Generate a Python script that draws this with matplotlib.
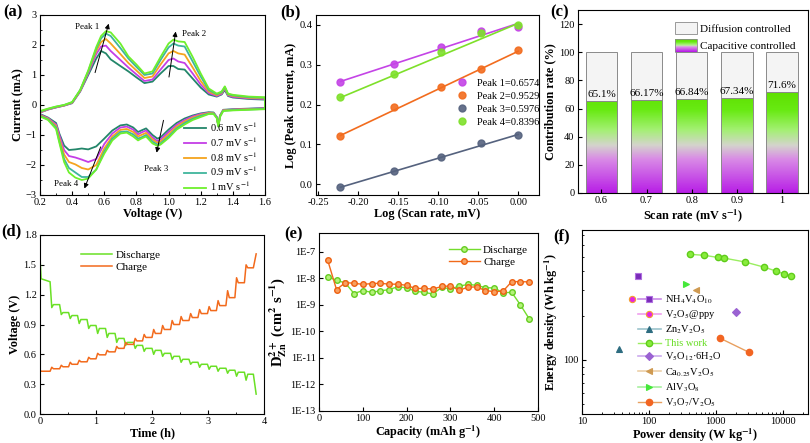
import numpy as np
import matplotlib
matplotlib.use("Agg")
import matplotlib.pyplot as plt
from matplotlib.colors import LinearSegmentedColormap, Normalize
from matplotlib.patches import Rectangle, Patch
from matplotlib.legend_handler import HandlerBase
from matplotlib.ticker import MultipleLocator, FixedLocator, FuncFormatter, NullLocator, NullFormatter

plt.rcParams['font.family'] = ['Liberation Serif', 'DejaVu Serif']
plt.rcParams['mathtext.fontset'] = 'stix'
plt.rcParams['font.size'] = 8
plt.rcParams['xtick.labelsize'] = 7.5
plt.rcParams['ytick.labelsize'] = 7.5
plt.rcParams['xtick.direction'] = 'in'
plt.rcParams['ytick.direction'] = 'in'
plt.rcParams['xtick.major.size'] = 3
plt.rcParams['ytick.major.size'] = 3
plt.rcParams['xtick.minor.size'] = 1.5
plt.rcParams['ytick.minor.size'] = 1.5
plt.rcParams['xtick.major.pad'] = 2.5
plt.rcParams['ytick.major.pad'] = 2.5

# ---------------- (a) CV curves ----------------
scan_rates = ['0.6', '0.7', '0.8', '0.9', '1']
cv_colors = ['#23866a', '#c43ee6', '#f5a41e', '#3fb59c', '#6ef02c']
cv_up_v = [0.2, 0.25, 0.3, 0.35, 0.4, 0.45, 0.5, 0.55, 0.58, 0.61, 0.64, 0.7, 0.75, 0.8, 0.85, 0.9,
           0.95, 1.0, 1.03, 1.06, 1.1, 1.15, 1.2, 1.25, 1.3, 1.33, 1.35, 1.37, 1.4, 1.5, 1.6]
cv_up_06 = [-0.25, -0.15, -0.08, -0.02, 0.06, 0.45, 1.0, 1.55, 1.8, 1.72, 1.52, 1.3, 1.12, 0.92, 0.73, 0.78,
            1.05, 1.3, 1.3, 1.2, 1.18, 0.88, 0.58, 0.35, 0.28, 0.35, 0.5, 0.3, 0.25, 0.2, 0.18]
cv_up_07 = [-0.25, -0.15, -0.08, -0.02, 0.07, 0.46, 1.05, 1.7, 1.95, 1.98, 1.8, 1.5, 1.25, 1.02, 0.8, 0.85,
            1.18, 1.5, 1.55, 1.45, 1.4, 1.05, 0.68, 0.4, 0.3, 0.37, 0.55, 0.32, 0.27, 0.22, 0.2]
cv_up_08 = [-0.24, -0.14, -0.07, -0.01, 0.08, 0.48, 1.1, 1.8, 2.1, 2.2, 2.05, 1.7, 1.4, 1.15, 0.9, 0.95,
            1.35, 1.72, 1.8, 1.72, 1.68, 1.25, 0.8, 0.45, 0.33, 0.4, 0.58, 0.34, 0.3, 0.24, 0.22]
cv_up_09 = [-0.22, -0.13, -0.06, 0.0, 0.09, 0.5, 1.12, 1.88, 2.22, 2.38, 2.3, 1.9, 1.55, 1.27, 1.0, 1.05,
            1.5, 1.92, 2.05, 1.98, 1.95, 1.45, 0.95, 0.5, 0.36, 0.42, 0.6, 0.36, 0.32, 0.26, 0.24]
cv_up_10 = [-0.2, -0.12, -0.05, 0.0, 0.1, 0.5, 1.15, 1.93, 2.3, 2.46, 2.42, 2.05, 1.62, 1.35, 1.05, 1.12,
            1.6, 2.05, 2.18, 2.12, 2.1, 1.6, 1.05, 0.55, 0.38, 0.45, 0.62, 0.38, 0.34, 0.28, 0.26]
cv_low_v = [1.6, 1.5, 1.4, 1.34, 1.32, 1.31, 1.3, 1.28, 1.25, 1.2, 1.15, 1.1, 1.05, 1.0, 0.95, 0.93, 0.9,
            0.86, 0.83, 0.81, 0.78, 0.74, 0.7, 0.65, 0.6, 0.55, 0.5, 0.46, 0.42, 0.38, 0.35, 0.32, 0.3, 0.25, 0.2]
cv_low_06 = [-0.1, -0.12, -0.14, -0.16, -0.35, -0.68, -0.4, -0.25, -0.24, -0.28, -0.35, -0.45, -0.6, -0.82,
             -1.08, -1.12, -1.0, -0.78, -0.85, -0.9, -0.75, -0.65, -0.68, -0.85, -1.12, -1.38, -1.48, -1.45,
             -1.48, -1.5, -1.35, -0.95, -0.6, -0.42, -0.3]
cv_low_07 = [-0.11, -0.13, -0.15, -0.17, -0.36, -0.7, -0.4, -0.26, -0.26, -0.3, -0.38, -0.5, -0.66, -0.9,
             -1.15, -1.2, -1.08, -0.85, -0.92, -0.98, -0.82, -0.72, -0.75, -0.95, -1.3, -1.8, -1.9, -1.82,
             -1.75, -1.7, -1.5, -1.0, -0.65, -0.44, -0.32]
cv_low_08 = [-0.12, -0.14, -0.16, -0.18, -0.37, -0.7, -0.42, -0.27, -0.27, -0.33, -0.42, -0.55, -0.72, -0.98,
             -1.22, -1.26, -1.15, -0.93, -1.0, -1.05, -0.9, -0.8, -0.83, -1.05, -1.45, -2.0, -2.15, -2.1,
             -1.98, -1.9, -1.65, -1.1, -0.7, -0.46, -0.34]
cv_low_09 = [-0.13, -0.15, -0.17, -0.19, -0.38, -0.72, -0.42, -0.28, -0.29, -0.36, -0.46, -0.6, -0.78, -1.05,
             -1.28, -1.32, -1.22, -1.0, -1.08, -1.12, -0.98, -0.88, -0.9, -1.12, -1.55, -2.15, -2.4, -2.4,
             -2.25, -2.1, -1.8, -1.2, -0.75, -0.48, -0.36]
cv_low_10 = [-0.14, -0.16, -0.18, -0.2, -0.4, -0.72, -0.44, -0.3, -0.3, -0.4, -0.5, -0.65, -0.82, -1.1,
             -1.32, -1.36, -1.28, -1.05, -1.12, -1.18, -1.05, -0.92, -0.95, -1.18, -1.62, -2.15, -2.45, -2.5,
             -2.42, -2.25, -1.9, -1.25, -0.8, -0.5, -0.38]
cv_up = [cv_up_06, cv_up_07, cv_up_08, cv_up_09, cv_up_10]
cv_low = [cv_low_06, cv_low_07, cv_low_08, cv_low_09, cv_low_10]

# ---------------- (b) log i vs log v ----------------
log_v = [-0.222, -0.155, -0.097, -0.046, 0.0]
peak_names = ['Peak 1=0.6574', 'Peak 2=0.9529', 'Peak 3=0.5976', 'Peak 4=0.8396']
peak_slopes = [0.6574, 0.9529, 0.5976, 0.8396]
peak_intercepts = [0.404, 0.334, 0.125, 0.404]
log_i = [[0.256, 0.301, 0.345, 0.385, 0.394],
         [0.122, 0.194, 0.243, 0.290, 0.336],
         [-0.006, 0.034, 0.069, 0.104, 0.124],
         [0.219, 0.278, 0.331, 0.380, 0.399]]
peak_colors = ['#c444e6', '#f26c1e', '#55627e', '#7ee02a']

# ---------------- (c) contribution ----------------
rate_labels = ['0.6', '0.7', '0.8', '0.9', '1']
capacitive = [65.1, 66.17, 66.84, 67.34, 71.6]
cap_text = ['65.1%', '66.17%', '66.84%', '67.34%', '71.6%']

# ---------------- (d) GITT ----------------
gitt_t = [0, 0.02, 0.18, 0.21, 0.24, 0.35, 0.38, 0.41, 0.51, 0.54, 0.57, 0.67, 0.70, 0.73, 0.84, 0.87, 0.90,
          1.00, 1.03, 1.06, 1.17, 1.20, 1.23, 1.34, 1.37, 1.40, 1.50, 1.53, 1.56, 1.67, 1.70, 1.73, 1.83, 1.86,
          1.89, 2.00, 2.03, 2.06, 2.16, 2.19, 2.22, 2.33, 2.36, 2.39, 2.49, 2.52, 2.55, 2.66, 2.69, 2.72, 2.82,
          2.85, 2.88, 2.99, 3.02, 3.05, 3.15, 3.18, 3.21, 3.32, 3.35, 3.38, 3.48, 3.51, 3.54, 3.65, 3.68, 3.71,
          3.81, 3.86]
discharge_v = [1.57, 1.36, 1.33, 1.07, 1.10, 1.10, 1.00, 1.02, 1.02, 0.96, 0.99, 0.99, 0.91, 0.95, 0.95, 0.86,
               0.89, 0.89, 0.81, 0.86, 0.86, 0.77, 0.81, 0.81, 0.72, 0.76, 0.76, 0.69, 0.72, 0.72, 0.66, 0.69,
               0.69, 0.63, 0.66, 0.66, 0.60, 0.64, 0.64, 0.58, 0.61, 0.61, 0.55, 0.58, 0.58, 0.52, 0.55, 0.55,
               0.50, 0.52, 0.52, 0.47, 0.50, 0.50, 0.45, 0.48, 0.48, 0.43, 0.46, 0.46, 0.41, 0.44, 0.44, 0.38,
               0.42, 0.42, 0.34, 0.40, 0.40, 0.20]
charge_v = [0.44, 0.43, 0.43, 0.47, 0.455, 0.455, 0.49, 0.475, 0.475, 0.52, 0.50, 0.50, 0.54, 0.525, 0.525,
            0.57, 0.555, 0.555, 0.61, 0.595, 0.595, 0.64, 0.625, 0.625, 0.68, 0.66, 0.66, 0.72, 0.70, 0.70,
            0.76, 0.735, 0.735, 0.80, 0.77, 0.77, 0.85, 0.81, 0.81, 0.89, 0.85, 0.85, 0.94, 0.90, 0.90, 0.98,
            0.94, 0.94, 1.01, 0.97, 0.97, 1.05, 1.01, 1.01, 1.08, 1.04, 1.04, 1.14, 1.09, 1.09, 1.24, 1.17,
            1.17, 1.37, 1.32, 1.32, 1.50, 1.47, 1.47, 1.61]

# ---------------- (e) diffusion coefficient ----------------
capacity = [20, 40, 60, 80, 100, 120, 140, 160, 180, 200, 220, 240, 260, 280, 300, 320, 340, 360, 380, 400,
            420, 440, 460, 480]
d_discharge = [1.15e-8, 8.5e-9, 6.8e-9, 2.7e-9, 3.5e-9, 3.0e-9, 3.4e-9, 3.8e-9, 4.9e-9, 4.4e-9, 3.3e-9,
               3.0e-9, 2.6e-9, 4.6e-9, 4.1e-9, 5.1e-9, 6.0e-9, 5.5e-9, 4.5e-9, 4.4e-9, 2.9e-9, 3.0e-9,
               1.0e-9, 3.0e-10]
d_charge = [4.8e-8, 3.8e-9, 7.0e-9, 6.6e-9, 6.0e-9, 6.4e-9, 6.6e-9, 6.1e-9, 6.1e-9, 5.5e-9, 4.2e-9, 4.2e-9,
            4.0e-9, 5.0e-9, 5.2e-9, 3.6e-9, 4.7e-9, 4.8e-9, 3.5e-9, 3.2e-9, 3.3e-9, 7.6e-9, 7.6e-9, 7.4e-9]

# ---------------- (f) Ragone ----------------
this_p = [409, 671, 1090, 1340, 2700, 5360, 8040, 10400, 13200]
this_e = [520, 512, 495, 490, 462, 425, 400, 383, 372]
ref_names = ['NH$_4$V$_4$O$_{10}$', 'V$_2$O$_5$@ppy', 'Zn$_2$V$_2$O$_5$', 'V$_5$O$_{12}$·6H$_2$O',
             'Ca$_{0.25}$V$_2$O$_5$', 'AlV$_3$O$_8$']
ref_p = [68, 55, 35.5, 2000, 515, 355]
ref_e = [371, 258, 119, 210, 297, 325]
v3o7_p = [1175, 3100]
v3o7_e = [140, 113]

fig = plt.figure(figsize=(8.1, 4.43), dpi=100)
H = 443.0
W = 810.0


def box(x0, x1, y0, y1):
    return [x0 / W, (H - y1) / H, (x1 - x0) / W, (y1 - y0) / H]


bold = dict(fontweight='bold', fontsize=8.8)

# (a)
ax = fig.add_axes(box(40, 265, 15, 195))
for k in range(5):
    v = list(cv_up_v) + list(cv_low_v) + [cv_up_v[0]]
    i = list(cv_up[k]) + list(cv_low[k]) + [cv_up[k][0]]
    ax.plot(v, i, color=cv_colors[k], lw=1.3, label=scan_rates[k] + ' mV s$^{-1}$')
ax.set_xlim(0.2, 1.6)
ax.set_ylim(-3, 3)
ax.xaxis.set_major_locator(MultipleLocator(0.2))
ax.xaxis.set_minor_locator(MultipleLocator(0.1))
ax.yaxis.set_major_locator(MultipleLocator(1))
ax.yaxis.set_minor_locator(MultipleLocator(0.5))
ax.set_xlabel('Voltage (V)', labelpad=0.5, **bold)
ax.set_ylabel('Current (mA)', labelpad=1, **bold)
arw = dict(arrowstyle='-|>', color='black', lw=0.7, mutation_scale=7)
ax.annotate('', xy=(0.632, 2.8), xytext=(0.538, 0.99), arrowprops=arw)
ax.annotate('', xy=(1.047, 2.54), xytext=(1.0, 0.84), arrowprops=arw)
ax.annotate('', xy=(0.922, -1.68), xytext=(0.972, -0.42), arrowprops=arw)
ax.annotate('', xy=(0.47, -2.87), xytext=(0.584, -1.31), arrowprops=arw)
ax.text(0.495, 2.6, 'Peak 1', fontsize=6.5, ha='center', va='center')
ax.text(1.16, 2.38, 'Peak 2', fontsize=6.5, ha='center', va='center')
ax.text(0.92, -2.12, 'Peak 3', fontsize=6.5, ha='center', va='center')
ax.text(0.36, -2.62, 'Peak 4', fontsize=6.5, ha='center', va='center')
ax.legend(loc='upper left', bbox_to_anchor=(0.61, 0.45), frameon=False, fontsize=7.5, handlelength=2.2,
          labelspacing=0.12, handletextpad=0.3, borderpad=0.1)

# (b)
ax = fig.add_axes(box(316, 539, 15, 195))
xfit = [log_v[0], log_v[-1]]
for k in range(4):
    yfit = [peak_intercepts[k] + peak_slopes[k] * xx for xx in xfit]
    ax.plot(xfit, yfit, color=peak_colors[k], lw=1.2)
    ax.plot(log_v, log_i[k], 'o', ms=5, color=peak_colors[k], mec=peak_colors[k], mfc=peak_colors[k],
            alpha=0.9, label=peak_names[k])
ax.set_xlim(-0.2525, 0.026)
ax.set_ylim(-0.027, 0.425)
ax.xaxis.set_major_locator(MultipleLocator(0.05))
ax.xaxis.set_major_formatter(FuncFormatter(lambda v, p: '%.2f' % v))
ax.yaxis.set_major_locator(MultipleLocator(0.1))
ax.yaxis.set_major_formatter(FuncFormatter(lambda v, p: '%.1f' % v))
ax.set_xlabel('Log (Scan rate, mV)', labelpad=0.5, **bold)
ax.set_ylabel('Log (Peak current, mA)', labelpad=2, **bold)
ax.legend(loc='upper left', bbox_to_anchor=(0.6, 0.68), frameon=False, fontsize=7.5, handlelength=1.2,
          labelspacing=0.35, handletextpad=0.8, borderpad=0.1)

# (c)
cap_cmap = LinearSegmentedColormap.from_list('cap', [(0, '#b81fe6'), (0.33, '#d98ae6'), (0.47, '#d4d4cc'),
                                                     (0.62, '#a4f074'), (0.82, '#68ea12'), (1, '#5ee000')])
ax = fig.add_axes(box(578, 808, 10, 193))
xpos = np.arange(len(rate_labels))
bw = 0.7
norm = Normalize(0, 72)
for k in range(len(xpos)):
    grad = np.linspace(0, capacitive[k], 200)[:, None]
    ax.imshow(grad, cmap=cap_cmap, norm=norm, origin='lower', aspect='auto',
              extent=(xpos[k] - bw / 2, xpos[k] + bw / 2, 0, capacitive[k]), zorder=1)
    ax.text(xpos[k], capacitive[k] + 1.5, cap_text[k], ha='center', va='bottom', fontsize=8)
ax.bar(xpos, [100 - c for c in capacitive], bw, bottom=capacitive, color='#f4f4f4', edgecolor='#8a8a8a',
       lw=0.7, zorder=2)
ax.bar(xpos, capacitive, bw, color='none', edgecolor='#8a8a8a', lw=0.7, zorder=2)
ax.set_xlim(-0.52, 4.58)
ax.set_ylim(0, 130)
ax.set_xticks(xpos)
ax.set_xticklabels(rate_labels)
ax.yaxis.set_major_locator(MultipleLocator(20))
ax.set_xlabel('Scan rate (mV s$^{\\mathbf{-1}}$)', labelpad=1, **bold)
ax.set_ylabel('Contribution rate (%)', labelpad=2, **bold)


class GradientHandler(HandlerBase):
    def create_artists(self, legend, orig_handle, xdescent, ydescent, width, height, fontsize, trans):
        arts = []
        n = 14
        for j in range(n):
            arts.append(Rectangle((-xdescent, -ydescent + height * j / n), width, height / n + 0.05,
                                  facecolor=cap_cmap(j / (n - 1)), edgecolor='none', transform=trans))
        arts.append(Rectangle((-xdescent, -ydescent), width, height, facecolor='none', edgecolor='#8a8a8a',
                              lw=0.6, transform=trans))
        return arts


diff_patch = Patch(facecolor='#f4f4f4', edgecolor='#8a8a8a', lw=0.6)
cap_patch = Patch(facecolor='#66ee00')
ax.legend([diff_patch, cap_patch], ['Diffusion controlled', 'Capacitive controlled'],
          handler_map={cap_patch: GradientHandler()}, loc='upper right', bbox_to_anchor=(0.99, 0.99),
          frameon=False, fontsize=8, handlelength=2.0, handleheight=1.3, labelspacing=0.5, handletextpad=0.3)

# (d)
ax = fig.add_axes(box(40, 264, 235, 414))
ax.plot(gitt_t, discharge_v, color='#6ae025', lw=1.1, label='Discharge')
ax.plot(gitt_t, charge_v, color='#f26a1c', lw=1.1, label='Charge')
ax.set_xlim(0, 4)
ax.set_ylim(0, 1.8)
ax.xaxis.set_major_locator(MultipleLocator(1))
ax.xaxis.set_minor_locator(MultipleLocator(0.5))
ax.yaxis.set_major_locator(MultipleLocator(0.3))
ax.yaxis.set_major_formatter(FuncFormatter(lambda v, p: '%.1f' % v))
ax.set_xlabel('Time (h)', labelpad=0.5, **bold)
ax.set_ylabel('Voltage (V)', labelpad=2, **bold)
ax.legend(loc='upper left', bbox_to_anchor=(0.14, 0.97), frameon=False, fontsize=8, handlelength=2.8,
          labelspacing=0.2, handletextpad=0.3)

# (e)
ax = fig.add_axes(box(319, 538, 233, 411))
ax.plot(capacity, d_discharge, '-o', color='#74dd2c', ms=4, mfc='#b4f27a', mec='#66cc22', lw=1.0,
        label='Discharge')
ax.plot(capacity, d_charge, '-o', color='#f06a1a', ms=4, mfc='#f8a060', mec='#ee6010', lw=1.0,
        label='Charge')
ax.set_yscale('log')
ax.set_xlim(0, 500)
ax.set_ylim(1e-13, 5.2e-7)
ax.yaxis.set_major_locator(FixedLocator([1e-13, 1e-12, 1e-11, 1e-10, 1e-9, 1e-8, 1e-7]))
ax.yaxis.set_major_formatter(FuncFormatter(lambda v, p: '1E%d' % int(round(np.log10(v)))))
ax.yaxis.set_minor_locator(NullLocator())
ax.xaxis.set_major_locator(MultipleLocator(100))
ax.set_xlabel('Capacity (mAh g$^{\\mathbf{-1}}$)', labelpad=0.5, **bold)
ax.set_ylabel('D$_{\\mathbf{Zn}}^{\\mathbf{2+}}$ (cm$^{\\mathbf{2}}$ s$^{\\mathbf{-1}}$)', labelpad=1,
              fontweight='bold', fontsize=10.5)
ax.legend(loc='upper right', bbox_to_anchor=(1.0, 0.99), frameon=False, fontsize=8, handlelength=2.8,
          labelspacing=0.2, handletextpad=0.3)

# (f)
ax = fig.add_axes(box(582, 808, 230, 414))
ref_style = [('s', '#7a2cb8', '#b070e0', '#c98ae8'),
             ('o', '#e426e0', '#f4a030', '#f0a0ee'),
             ('^', '#2d6c80', '#2d6c80', '#9cc4cc'),
             ('D', '#9a62d2', '#9a62d2', '#ccaaee'),
             ('<', '#cf9a52', '#cf9a52', '#ecd0a8'),
             ('>', '#45e83a', '#45e83a', '#a8f0a0')]
handles = []
for k in range(len(ref_names)):
    m, fc, ec, lc = ref_style[k]
    ax.plot([ref_p[k]], [ref_e[k]], m, ms=4.5 if m != 'D' else 3.8, mfc=fc, mec=ec, mew=0.8, zorder=3)
    h, = ax.plot([], [], '-' + m, color=lc, lw=1.2, ms=4.5 if m != 'D' else 3.8, mfc=fc, mec=ec, mew=0.8)
    handles.append(h)
hw, = ax.plot(this_p, this_e, '-o', color='#9aee60', lw=1.0, ms=4.5, mfc='#88ec3c', mec='#5fcc1a', zorder=3)
hv, = ax.plot(v3o7_p, v3o7_e, '-o', color='#e8a060', lw=1.0, ms=4.5, mfc='#f26522', mec='#f26522', zorder=3)
ax.set_xscale('log')
ax.set_yscale('log')
ax.set_xlim(10, 24000)
ax.set_ylim(43, 760)
ax.xaxis.set_major_formatter(FuncFormatter(lambda v, p: '%g' % v))
ax.xaxis.set_minor_formatter(NullFormatter())
ax.yaxis.set_major_formatter(FuncFormatter(lambda v, p: '%g' % v))
ax.yaxis.set_minor_formatter(NullFormatter())
ax.set_xlabel('Power density (W kg$^{\\mathbf{-1}}$)', labelpad=0.5, **bold)
ax.set_ylabel('Energy density (Wh kg$^{\\mathbf{-1}}$)', labelpad=2, **bold)
leg_h = [handles[0], handles[1], handles[2], hw, handles[3], handles[4], handles[5], hv]
leg_l = [ref_names[0], ref_names[1], ref_names[2], 'This work', ref_names[3], ref_names[4], ref_names[5],
         'V$_3$O$_7$/V$_2$O$_5$']
leg = ax.legend(leg_h, leg_l, loc='upper left', bbox_to_anchor=(0.22, 0.69), frameon=False, fontsize=7.5,
                handlelength=2.2, labelspacing=0.25, handletextpad=0.4, borderpad=0.1)
leg.get_texts()[3].set_color('#66dd22')

# panel labels
for lab, x, y in [('(a)', 3, 4), ('(b)', 280, 4), ('(c)', 550, 4), ('(d)', 1, 223), ('(e)', 284, 226),
                  ('(f)', 553, 228)]:
    fig.text(x / W, 1 - y / H, lab, fontsize=12, fontweight='bold', va='top', ha='left')

fig.savefig('out.png', dpi=100)
